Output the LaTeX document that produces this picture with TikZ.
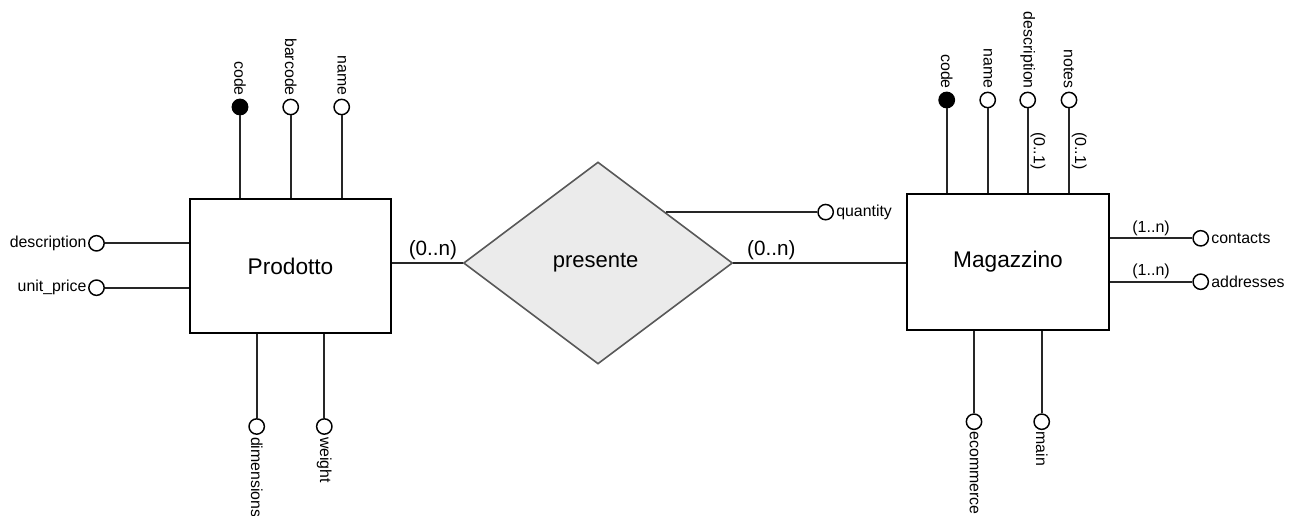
\documentclass[tikz,border=0pt]{standalone}
\usepackage{fontspec}
\setmainfont{Liberation Sans}
\usetikzlibrary{shapes.geometric}

\begin{document}
\begin{tikzpicture}[
  x=0.75pt, y=-0.75pt,
  link/.style={line width=1.25pt, draw=black!85},
  entity/.style={draw, line width=1.25pt, fill=white, inner sep=0pt,
    font=\fontsize{17}{19}\selectfont},
  relation/.style={diamond, draw=black!65, fill=black!8, line width=1.2pt,
    inner sep=0pt, minimum width=201.75pt, minimum height=151.5pt,
    font=\fontsize{16.5}{18}\selectfont},
  attr/.style={circle, draw, line width=1.1pt, fill=white,
    minimum size=11.5pt, inner sep=0pt},
  keyattr/.style={attr, fill=black},
  lbl/.style={font=\fontsize{11.9}{13}\selectfont, inner sep=2pt},
  card/.style={font=\fontsize{15.5}{17}\selectfont, inner sep=1.5pt},
  smallcard/.style={font=\fontsize{12}{14}\selectfont, inner sep=1.5pt},
]
\useasboundingbox (0,0) rectangle (1299,515);

% entities and relationship
\node[entity, minimum width=150.75pt, minimum height=100.5pt] (P) at (290.5,266) {Prodotto};
\node[entity, minimum width=151.5pt, minimum height=102pt] (M) at (1008,262) {Magazzino};
\node[relation] (R) at (598,263) {\hspace*{-3.5pt}presente};

% relationship links with cardinalities
\draw[link] (R.west -| P.east) -- node[card, above, pos=0.58] (cl) {(0..n)} (R.west);
\draw[link] (R.east) -- node[card, above, pos=0.22] (cr) {(0..n)} (R.east -| M.west);

% relationship attribute
\path (R.north east) ++(160,0) node[attr] (q) {};
\draw[link] (R.north east) -- (q);
\node[lbl, anchor=west, inner sep=1.5pt] (ql) at (q.east) {quantity};

% Prodotto: top attributes
\node[keyattr] (pcode) at (240,107) {};
\node[attr] (pbar) at (290.7,107) {};
\node[attr] (pname) at (341.7,107) {};
\foreach \a in {pcode,pbar,pname}
  \draw[link] (\a) -- (\a |- P.north);
\node[lbl, rotate=-90, anchor=east] (lpcode) at (pcode.north) {code};
\node[lbl, rotate=-90, anchor=east] (lpbar) at (pbar.north) {barcode};
\node[lbl, rotate=-90, anchor=east] (lpname) at (pname.north) {name};

% Prodotto: left attributes
\node[attr] (pdesc) at (96.5,243.3) {};
\node[attr] (pprice) at (96.5,287.7) {};
\foreach \a in {pdesc,pprice}
  \draw[link] (\a) -- (\a -| P.west);
\node[lbl, anchor=east, inner sep=1pt] (lpdesc) at (pdesc.west) {description};
\node[lbl, anchor=east, inner sep=1pt] (lpprice) at (pprice.west) {unit\_price};

% Prodotto: bottom attributes
\node[attr] (pdim) at (256.7,426.5) {};
\node[attr] (pweight) at (324.3,426.5) {};
\foreach \a in {pdim,pweight}
  \draw[link] (\a) -- (\a |- P.south);
\node[lbl, rotate=-90, anchor=west, inner sep=1.5pt] (lpdim) at (pdim.south) {dimensions};
\node[lbl, rotate=-90, anchor=west, inner sep=1.5pt] (lpweight) at (pweight.south) {weight};

% Magazzino: top attributes
\node[keyattr] (mcode) at (946.7,100) {};
\node[attr] (mname) at (987.7,100) {};
\node[attr] (mdesc) at (1027.7,100) {};
\node[attr] (mnotes) at (1069,100) {};
\draw[link] (mcode) -- (mcode |- M.north);
\draw[link] (mname) -- (mname |- M.north);
\draw[link] (mdesc) -- node[smallcard, rotate=-90, anchor=south] (cmdesc) {(0..1)} (mdesc |- M.north);
\draw[link] (mnotes) -- node[smallcard, rotate=-90, anchor=south] (cmnotes) {(0..1)} (mnotes |- M.north);
\node[lbl, rotate=-90, anchor=east] (lmcode) at (mcode.north) {code};
\node[lbl, rotate=-90, anchor=east] (lmname) at (mname.north) {name};
\node[lbl, rotate=-90, anchor=east] (lmdesc) at (mdesc.north) {description};
\node[lbl, rotate=-90, anchor=east] (lmnotes) at (mnotes.north) {notes};

% Magazzino: right attributes
\node[attr] (mcont) at (1200.7,238.3) {};
\node[attr] (maddr) at (1200.7,281.7) {};
\draw[link] (mcont -| M.east) -- node[smallcard, above] (cmcont) {(1..n)} (mcont);
\draw[link] (maddr -| M.east) -- node[smallcard, above] (cmaddr) {(1..n)} (maddr);
\node[lbl, anchor=west, inner sep=1.5pt] (lmcont) at (mcont.east) {contacts};
\node[lbl, anchor=west, inner sep=1.5pt] (lmaddr) at (maddr.east) {addresses};

% Magazzino: bottom attributes
\node[attr] (mecom) at (974,421.7) {};
\node[attr] (mmain) at (1041.7,421.7) {};
\foreach \a in {mecom,mmain}
  \draw[link] (\a) -- (\a |- M.south);
\node[lbl, rotate=-90, anchor=west, inner sep=1pt] (lmecom) at (mecom.south) {ecommerce};
\node[lbl, rotate=-90, anchor=west, inner sep=1pt] (lmmain) at (mmain.south) {main};
\end{tikzpicture}
\end{document}
